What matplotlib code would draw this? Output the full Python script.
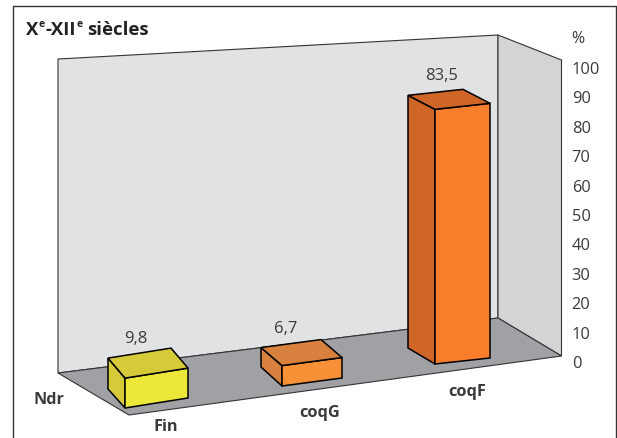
import matplotlib
matplotlib.use("Agg")
import matplotlib.pyplot as plt
from matplotlib.patches import Polygon

plt.rcParams['font.family'] = ['Open Sans', 'DejaVu Sans']

# ---- data ----
categories = ['Fin', 'coqG', 'coqF']
values = [9.8, 6.7, 83.5]
value_labels = ['9,8', '6,7', '83,5']
depth_category = 'Ndr'
ticks = list(range(0, 101, 10))
unit = '%'

# ---- layout (pixels of the 617x439 canvas) ----
W, H = 617, 439
AX_RIGHT = 571
ZERO_PX, PX_PER_PCT = 362, 2.94
BAR_GAIN = 3.05 / 2.94          # perspective: bars sit closer than the axis
base = [(125, 409), (282, 387), (435, 365)]
front = [(63, -10), (60, -8), (55, -6)]
depth = [(-17, -19), (-21, -19), (-27, -16)]
top_depth = [(-17, -20), (-21, -18), (-27, -14)]
label_x = [136, 286, 442]
cat_pos = [(166, 427), (320, 413), (467, 392)]
front_col = ['#ECE83A', '#F79137', '#F87E2C']
side_col = ['#D6CA38', '#D8813E', '#CF6526']
INK = '#3A3A3C'


def py(p):
    """pixel row -> percent units of the y axis"""
    return (ZERO_PX - p) / PX_PER_PCT


fig = plt.figure(figsize=(W / 100, H / 100), dpi=100, facecolor='white')
ax = fig.add_axes([0, 0, AX_RIGHT / W, 1])
ax.set_xlim(0, AX_RIGHT)
ax.set_ylim(py(H), py(0))
ax.patch.set_visible(False)
for s in ax.spines.values():
    s.set_visible(False)
ax.set_xticks([])
ax.yaxis.tick_right()
ax.set_yticks(ticks)
ax.set_yticklabels([str(t) for t in ticks], fontsize=11.8, color=INK, family='Open Sans')
ax.tick_params(axis='y', length=0, pad=0.5)


def poly(pts_px, fc, ec, lw, z):
    ax.add_patch(Polygon([(x, py(y)) for x, y in pts_px], closed=True, fc=fc, ec=ec,
                         lw=lw, zorder=z, joinstyle='miter', clip_on=False))


# outer frame, open at the bottom
ax.plot([13, 13, 616, 616], [py(440), py(7), py(7), py(440)], color='#333333', lw=1.0,
        clip_on=False, zorder=1)

# walls and floor
poly([(58, 60), (498, 36), (498, 319), (58, 374)], '#E1E2E4', '#333333', 0.8, 2)
poly([(498, 36), (561.5, 61), (561.5, 357), (498, 319)], '#D3D4D6', '#333333', 0.8, 2)
poly([(58, 374), (498, 319), (561.5, 357), (129, 416)], '#9FA1A4', '#333333', 0.8, 3)

# bars
for i, v in enumerate(values):
    bx, by = base[i]
    fx, fy = front[i]
    dx, dy = depth[i]
    tx, ty = top_depth[i]
    h = v * PX_PER_PCT * BAR_GAIN
    fl_b = (bx, by)
    fr_b = (bx + fx, by + fy)
    bl_b = (bx + dx, by + dy)
    fl_t = (bx, by - h)
    fr_t = (bx + fx, by + fy - h)
    bl_t = (bx + tx, by - h + ty)
    br_t = (bx + fx + tx, by + fy - h + ty)
    poly([bl_b, fl_b, fl_t, bl_t], side_col[i], 'black', 1.1, 4)
    poly([fl_b, fr_b, fr_t, fl_t], front_col[i], 'black', 1.1, 4)
    poly([fl_t, fr_t, br_t, bl_t], side_col[i], 'black', 1.1, 4)
    ax.text(label_x[i], py(by - h + ty - 20), value_labels[i], ha='center', va='center',
            fontsize=12, color=INK, zorder=6)
    ax.text(cat_pos[i][0], py(cat_pos[i][1]), categories[i], ha='center', va='center',
            fontsize=11.8, fontweight='bold', color=INK, zorder=6)

ax.text(49, py(400), depth_category, ha='center', va='center', fontsize=11.6,
        fontweight='bold', color=INK)
ax.text(578, py(39), unit, ha='center', va='center', fontsize=11.5, color=INK, clip_on=False)

# title with superscripts, laid out piece by piece
fig.canvas.draw()
renderer = fig.canvas.get_renderer()
x = 26.0
for piece, sup in [('X', False), ('e', True), ('-XII', False), ('e', True), (' siècles', False)]:
    t = ax.text(x, py(27 if sup else 35.5), piece, ha='left', va='baseline',
                fontsize=7.5 if sup else 13.3, fontweight='bold', color='#222222', zorder=6)
    if piece.startswith(' '):
        t.set_text('siècles')
        t.set_x(x + 4)
        break
    x += t.get_window_extent(renderer).width + 0.5

fig.savefig('out.png', dpi=100)
